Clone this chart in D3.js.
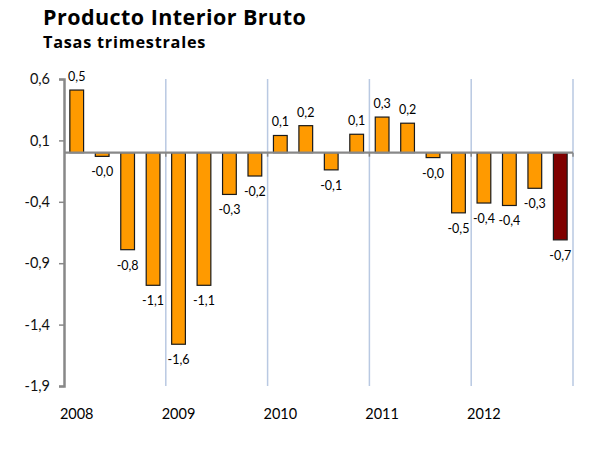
<!DOCTYPE html>
<html>
<head>
<meta charset="utf-8">
<script src="https://cdn.jsdelivr.net/npm/d3@7"></script>
<style>
  html, body { margin: 0; padding: 0; background: #fff; }
  svg { display: block; }
</style>
</head>
<body>
<script>
// ---- Data ----
const quarters = [
  "2008T1","2008T2","2008T3","2008T4",
  "2009T1","2009T2","2009T3","2009T4",
  "2010T1","2010T2","2010T3","2010T4",
  "2011T1","2011T2","2011T3","2011T4",
  "2012T1","2012T2","2012T3","2012T4"
];
const values = [
  0.51, -0.03, -0.79, -1.08,
  -1.56, -1.08, -0.34, -0.19,
  0.14, 0.22, -0.14, 0.15,
  0.29, 0.24, -0.04, -0.49,
  -0.41, -0.43, -0.29, -0.71
];
const years = ["2008", "2009", "2010", "2011", "2012"];
const yTicks = [0.6, 0.1, -0.4, -0.9, -1.4, -1.9];
const titleText = "Producto Interior Bruto";
const subtitleText = "Tasas trimestrales";

// ---- Layout ----
const W = 609, H = 449;
const plotLeft = 64, plotRight = 573, plotTop = 79, plotBottom = 386;

const svg = d3.select("body").append("svg")
  .attr("width", W).attr("height", H);

const x = d3.scaleBand()
  .domain(quarters)
  .range([plotLeft, plotRight])
  .paddingInner(0.46)
  .paddingOuter(0.23);

const y = d3.scaleLinear()
  .domain([-1.9, 0.6])
  .range([plotBottom, plotTop]);

const fmt = v => v.toFixed(1).replace(".", ",");
const labelFont = "Lato, 'Open Sans', sans-serif";
const titleFont = "'Open Sans', 'DejaVu Sans', sans-serif";

// Title
svg.append("text")
  .attr("x", 43).attr("y", 25)
  .attr("font-family", titleFont)
  .attr("font-weight", "bold")
  .attr("font-size", 21.5)
  .attr("letter-spacing", 0.45)
  .attr("fill", "#000")
  .text(titleText);
svg.append("text")
  .attr("x", 43).attr("y", 48)
  .attr("font-family", titleFont)
  .attr("font-weight", "bold")
  .attr("font-size", 16.3)
  .attr("letter-spacing", 0.75)
  .attr("fill", "#000")
  .text(subtitleText);

// Year gridlines (at year boundaries)
const yearStarts = years.map(yr => quarters.find(q => q.startsWith(yr)));
const boundaries = yearStarts.slice(1).map(q => x(q) - x.step() * x.paddingInner() / 2)
  .concat([plotRight]);
svg.append("g").selectAll("line")
  .data(boundaries).join("line")
  .attr("x1", d => d).attr("x2", d => d)
  .attr("y1", plotTop).attr("y2", plotBottom)
  .attr("stroke", "#B9C9E2").attr("stroke-width", 1.5);

// Bars
svg.append("g").selectAll("rect")
  .data(quarters.map((q, i) => ({ q, v: values[i], i })))
  .join("rect")
  .attr("x", d => x(d.q))
  .attr("width", x.bandwidth())
  .attr("y", d => Math.min(y(d.v), y(0)))
  .attr("height", d => Math.abs(y(d.v) - y(0)))
  .attr("fill", d => d.i === quarters.length - 1 ? "#7F0000" : "#FF9A00")
  .attr("stroke", "#1a1a1a")
  .attr("stroke-width", 1.2);

// Zero line (category axis)
svg.append("line")
  .attr("x1", plotLeft).attr("x2", plotRight)
  .attr("y1", y(0)).attr("y2", y(0))
  .attr("stroke", "#888").attr("stroke-width", 2.2);
svg.append("g").selectAll("line")
  .data(boundaries).join("line")
  .attr("x1", d => d).attr("x2", d => d)
  .attr("y1", y(0)).attr("y2", y(0) + 4)
  .attr("stroke", "#888").attr("stroke-width", 1.5);

// Y axis
const yAxis = d3.axisLeft(y)
  .tickValues(yTicks)
  .tickSize(5)
  .tickPadding(9)
  .tickFormat(fmt);
const yg = svg.append("g")
  .attr("transform", `translate(${plotLeft},0)`)
  .call(yAxis);
yg.select(".domain").attr("stroke", "#888").attr("stroke-width", 2.5);
yg.selectAll(".tick line").attr("stroke", "#888").attr("stroke-width", 1.5);
yg.selectAll(".tick text")
  .attr("font-family", labelFont)
  .attr("font-size", 14.5)
  .attr("fill", "#111");

// Data labels
svg.append("g").selectAll("text")
  .data(quarters.map((q, i) => ({ q, v: values[i] })))
  .join("text")
  .attr("x", d => x(d.q) + x.bandwidth() / 2)
  .attr("y", d => d.v >= 0 ? y(d.v) - 9 : y(d.v) + 20)
  .attr("text-anchor", "middle")
  .attr("font-family", labelFont)
  .attr("font-size", 12.5)
  .attr("fill", "#000")
  .text(d => fmt(d.v));

// Year labels
svg.append("g").selectAll("text")
  .data(years.map((yr, i) => ({ yr, q: yearStarts[i] })))
  .join("text")
  .attr("x", d => x(d.q) + x.bandwidth() / 2)
  .attr("y", 419)
  .attr("text-anchor", "middle")
  .attr("font-family", labelFont)
  .attr("font-size", 14.5)
  .attr("fill", "#000")
  .text(d => d.yr);
</script>
</body>
</html>
